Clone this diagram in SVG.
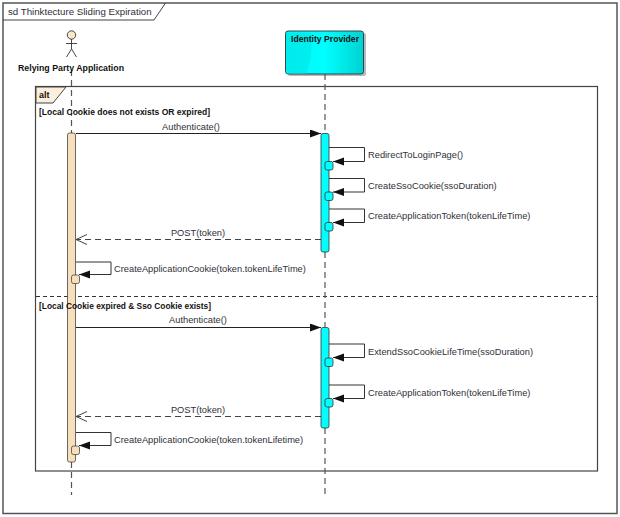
<svg xmlns="http://www.w3.org/2000/svg" width="620" height="517" viewBox="0 0 620 517">
<defs>
<linearGradient id="ip" x1="0" y1="0" x2="1" y2="0"><stop offset="0" stop-color="#00f4f4"/><stop offset="0.5" stop-color="#00ffff"/><stop offset="1" stop-color="#00d2d2"/></linearGradient>
<marker id="solid" markerUnits="userSpaceOnUse" markerWidth="12" markerHeight="10" refX="11" refY="4" orient="auto"><path d="M0 0L11 4L0 8Z" fill="#111"/></marker>
<marker id="open" markerUnits="userSpaceOnUse" markerWidth="14" markerHeight="12" refX="12" refY="5" orient="auto"><path d="M1 0L12 5L1 10" fill="none" stroke="#444"/></marker>
</defs>
<style>
text{font-family:"Liberation Sans",Arial,sans-serif;font-size:9.300px;fill:#303038}
.b{font-weight:bold;fill:#111;font-size:9px}
.frame{fill:#fff;stroke:#555;stroke-width:1.500}
.life{stroke:#555;stroke-width:1.200;stroke-dasharray:6 4;fill:none}
.msg{stroke:#222;stroke-width:1;fill:none}
.ret{stroke:#444;stroke-width:1;stroke-dasharray:6 4;fill:none}
.self{stroke:#333;stroke-width:1;fill:none}
.ca{fill:#00ffff;stroke:#333;stroke-width:.8}
.ta{fill:#f8dfbc;stroke:#444;stroke-width:.8}
</style>
<rect width="620" height="517" fill="#fff"/>
<g id="frame-sd">
<rect class="frame" x="3" y="3" width="614" height="510.500"/>
<path d="M3 20H154L165.500 3" fill="none" stroke="#444" stroke-width="1"/>
<text x="8" y="14.500" style="font-size:9.700px">sd Thinktecture Sliding Expiration</text>
</g>
<g id="frame-alt">
<rect x="35.500" y="86.500" width="562" height="384.500" fill="#fff" stroke="#444" stroke-width="1.200"/>
<path d="M36 87H66L53 103H36Z" fill="#fbeedd" stroke="#444" stroke-width="1"/>
<path d="M36 296.500H597" stroke="#333" stroke-width="1" stroke-dasharray="4 3" fill="none"/>
</g>
<g id="node-relying-party">
<circle cx="71.500" cy="35" r="4.200" fill="#fbe6c8" stroke="#333" stroke-width=".9"/>
<path d="M71.500 39V49M66 43.500H77M71.500 49L66.500 57M71.500 49L76.500 57" fill="none" stroke="#333" stroke-width=".9"/>
</g>
<g id="node-identity-provider">
<rect x="288" y="33" width="78" height="43" rx="2" fill="#b8b8c4"/>
<rect x="285.500" y="31" width="78" height="43" rx="2.500" fill="url(#ip)" stroke="#333" stroke-width=".9"/>
<path d="M286 33H311C313 48 310 62 306 73.500H286Z" fill="#00e8e8" opacity=".7"/>
<text class="b" x="325" y="42" text-anchor="middle" textLength="68" lengthAdjust="spacingAndGlyphs">Identity Provider</text>
</g>
<g id="connectors">
<path class="life" d="M71.500 70V133M71.500 462V495M325 74V134M325 252V327M325 428V495"/>
<path class="msg" marker-end="url(#solid)" d="M76 133.500H321"/>
<path class="self" marker-end="url(#solid)" d="M329 147.500H364.500V161.500H333"/>
<path class="self" marker-end="url(#solid)" d="M329 178.500H364.500V192H333"/>
<path class="self" marker-end="url(#solid)" d="M329 209H364.500V222.500H333"/>
<path class="ret" marker-end="url(#open)" d="M321 239.500H76"/>
<path class="self" marker-end="url(#solid)" d="M76 262H111V274.500H79"/>
<path class="msg" marker-end="url(#solid)" d="M76 327.500H321"/>
<path class="self" marker-end="url(#solid)" d="M329 344H364.500V357.500H333"/>
<path class="self" marker-end="url(#solid)" d="M329 385H364.500V398.500H333"/>
<path class="ret" marker-end="url(#open)" d="M321 416.500H76"/>
<path class="self" marker-end="url(#solid)" d="M76 432.500H111V445.500H79"/>
</g>
<g id="activation-left">
<rect class="ta" x="67.500" y="133" width="8" height="329" rx="2"/>
<rect class="ta" x="71.500" y="275" width="8" height="8.500" rx="2"/>
<rect class="ta" x="71.500" y="446" width="8" height="8.500" rx="2"/>
</g>
<g id="activation-right">
<rect class="ca" x="321" y="133.500" width="8" height="118.500" rx="2"/>
<rect class="ca" x="325" y="161.500" width="8" height="8.500" rx="2"/>
<rect class="ca" x="325" y="192" width="8" height="8.500" rx="2"/>
<rect class="ca" x="325" y="222.500" width="8" height="8.500" rx="2"/>
<rect class="ca" x="321" y="327.500" width="8" height="100.500" rx="2"/>
<rect class="ca" x="325" y="358" width="8" height="8.500" rx="2"/>
<rect class="ca" x="325" y="398.500" width="8" height="8.500" rx="2"/>
</g>
<g id="labels">
<text class="b" x="39" y="98">alt</text>
<text class="b" x="39" y="115" textLength="171" lengthAdjust="spacingAndGlyphs">[Local Cookie does not exists OR expired]</text>
<text class="b" x="39" y="309" textLength="172" lengthAdjust="spacingAndGlyphs">[Local Cookie expired &amp; Sso Cookie exists]</text>
<text class="b" x="71" y="70.500" text-anchor="middle" textLength="106" lengthAdjust="spacingAndGlyphs">Relying Party Application</text>
<text x="191" y="130" text-anchor="middle">Authenticate()</text>
<text x="368" y="158">RedirectToLoginPage()</text>
<text x="368" y="188.500">CreateSsoCookie(ssoDuration)</text>
<text x="368" y="219">CreateApplicationToken(tokenLifeTime)</text>
<text x="198" y="235.500" text-anchor="middle">POST(token)</text>
<text x="114" y="272">CreateApplicationCookie(token.tokenLifeTime)</text>
<text x="198" y="323" text-anchor="middle">Authenticate()</text>
<text x="368" y="354.500">ExtendSsoCookieLifeTime(ssoDuration)</text>
<text x="368" y="395.500">CreateApplicationToken(tokenLifeTime)</text>
<text x="198" y="412.500" text-anchor="middle">POST(token)</text>
<text x="114" y="442.500">CreateApplicationCookie(token.tokenLifetime)</text>
</g>
</svg>
